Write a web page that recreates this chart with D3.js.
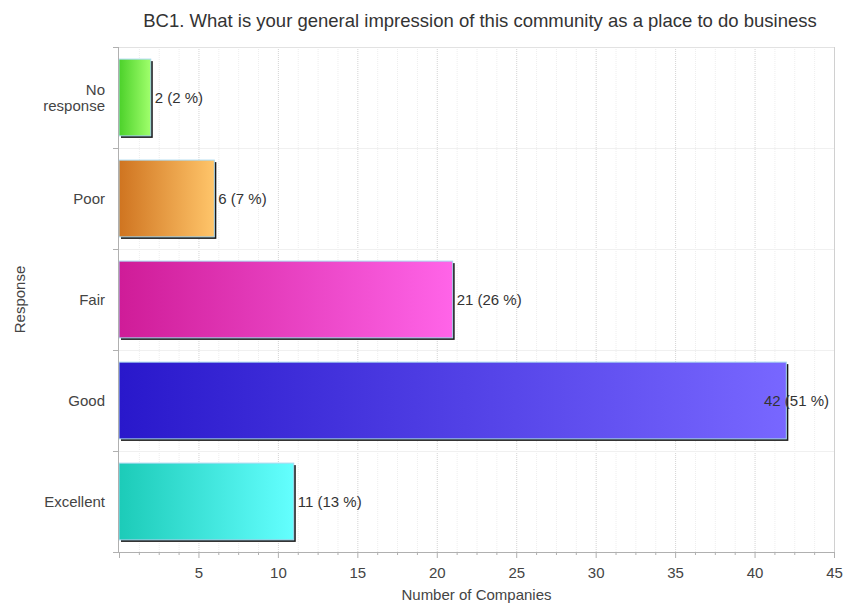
<!DOCTYPE html>
<html><head><meta charset="utf-8">
<script src="https://cdn.jsdelivr.net/npm/d3@7"></script>
<style>body{margin:0;background:#fff;} text{font-family:"Liberation Sans",Arial,sans-serif;}</style>
</head><body>
<svg id="c" width="843" height="604"></svg>
<script>
const categories = ["No response","Poor","Fair","Good","Excellent"];
const counts = [2, 6, 21, 42, 11];
const percents = [2, 7, 26, 51, 13];
const xTicks = [5, 10, 15, 20, 25, 30, 35, 40, 45];
const colorsStart = ["#4cd12a","#cf7420","#cf1c98","#2918cb","#1ccbb8"];
const colorsEnd = ["#a0ff6c","#ffc56a","#ff64e8","#7867ff","#64ffff"];
const title = "BC1. What is your general impression of this community as a place to do business";

const svg = d3.select("#c");
const m = {l:119, r:9, t:47, b:52};
const W = 843, H = 604;
const x = d3.scaleLinear().domain([0,45]).range([m.l, W - m.r]);
const y = d3.scaleBand().domain(categories).range([m.t, H - m.b]).paddingInner(0.24).paddingOuter(0.12);

const defs = svg.append("defs");
categories.forEach((c,i)=>{
  const g = defs.append("linearGradient").attr("id","g"+i).attr("x1","0").attr("x2","1").attr("y1","0").attr("y2","0");
  g.append("stop").attr("offset","0").attr("stop-color",colorsStart[i]);
  g.append("stop").attr("offset","1").attr("stop-color",colorsEnd[i]);
});

const step = (H - m.b - m.t) / categories.length;
const bounds = d3.range(categories.length + 1).map(i => m.t + i*step);

const minor = d3.range(1.25, 45, 1.25).filter(v => Math.abs(v/5 - Math.round(v/5)) > 1e-6);
svg.append("g").selectAll("line").data(minor).join("line")
  .attr("x1",d=>x(d)+0.5).attr("x2",d=>x(d)+0.5).attr("y1",m.t).attr("y2",H-m.b)
  .attr("stroke","#eeeeee").attr("stroke-width",1).attr("stroke-dasharray","1,1");
svg.append("g").selectAll("line").data(xTicks.slice(0,-1)).join("line")
  .attr("x1",d=>x(d)+0.5).attr("x2",d=>x(d)+0.5).attr("y1",m.t).attr("y2",H-m.b)
  .attr("stroke","#d4d4d4").attr("stroke-width",1).attr("stroke-dasharray","1,1");
svg.append("g").selectAll("line").data(bounds.slice(1,-1)).join("line")
  .attr("x1",m.l).attr("x2",W-m.r).attr("y1",d=>Math.round(d)+0.5).attr("y2",d=>Math.round(d)+0.5)
  .attr("stroke","#f0f0f0").attr("stroke-width",1);

svg.append("line").attr("x1",m.l).attr("x2",W-m.r).attr("y1",m.t+0.5).attr("y2",m.t+0.5).attr("stroke","#e2e2e2");
svg.append("line").attr("x1",W-m.r+0.5).attr("x2",W-m.r+0.5).attr("y1",m.t).attr("y2",H-m.b).attr("stroke","#d0d0d0");

const bars = svg.append("g");
categories.forEach((c,i)=>{
  const bx = x(0), bw = x(counts[i]) - x(0), by = y(c), bh = y.bandwidth();
  bars.append("rect").attr("x",bx+2).attr("y",by+2).attr("width",bw).attr("height",bh).attr("fill","#1a1a1a");
  bars.append("rect").attr("x",bx).attr("y",by).attr("width",bw).attr("height",bh)
    .attr("fill","url(#g"+i+")").attr("stroke","#a8d8f0").attr("stroke-width",1);
});

const xAxis = d3.axisBottom(x).tickValues(xTicks).tickSize(6).tickPadding(9);
const gx = svg.append("g").attr("transform",`translate(0,${H-m.b})`).call(xAxis);
gx.attr("font-size",null).attr("font-family",null);
gx.select(".domain").attr("stroke","#b0b0b0").attr("d",`M${m.l-6},0.5H${W-m.r}`);
gx.selectAll(".tick line").attr("stroke","#b0b0b0");
gx.selectAll(".tick text").attr("fill","#444").style("font-size","15px");
svg.append("g").selectAll("line").data(minor.concat([0])).join("line")
  .attr("x1",d=>x(d)+0.5).attr("x2",d=>x(d)+0.5).attr("y1",H-m.b)
  .attr("y2",d=>H-m.b+(d===0?6:3))
  .attr("stroke","#b0b0b0");

svg.append("line").attr("x1",m.l-0.5).attr("x2",m.l-0.5).attr("y1",m.t).attr("y2",H-m.b).attr("stroke","#b0b0b0");
svg.append("g").selectAll("line").data(bounds).join("line")
  .attr("x1",m.l-6).attr("x2",m.l).attr("y1",d=>Math.round(d)+0.5).attr("y2",d=>Math.round(d)+0.5)
  .attr("stroke","#b0b0b0");

const yl = svg.append("g");
categories.forEach(c=>{
  const cy = y(c) + y.bandwidth()/2;
  const words = c === "No response" ? ["No","response"] : [c];
  const t = yl.append("text").attr("text-anchor","end").style("font-size","15px").attr("fill","#444");
  words.forEach((w,j)=>{
    t.append("tspan").attr("x",105).attr("y", cy + 5 + (j - (words.length-1)/2)*16).text(w);
  });
});

const labelText = i => counts[i] + " (" + percents[i] + " %)";
svg.append("g").selectAll("text").data(categories).join("text")
  .attr("y",d=>y(d)+y.bandwidth()/2+5)
  .style("font-size","15px").attr("fill","#333")
  .text((d,i)=>labelText(i))
  .each(function(d,i){
    const w = this.getComputedTextLength();
    const ex = x(counts[i]) + 4;
    d3.select(this).attr("x", Math.min(ex, W - m.r - 5 - w));
  });

svg.append("text").attr("x",480).attr("y",27).attr("text-anchor","middle")
  .style("font-size","18.5px").attr("fill","#333").text(title);
svg.append("text").attr("transform",`translate(25,${(m.t+H-m.b)/2}) rotate(-90)`).attr("text-anchor","middle")
  .style("font-size","15px").attr("fill","#444").text("Response");
svg.append("text").attr("x",(m.l + W - m.r)/2).attr("y",600).attr("text-anchor","middle")
  .style("font-size","15px").attr("fill","#444").text("Number of Companies");
</script>
</body></html>
